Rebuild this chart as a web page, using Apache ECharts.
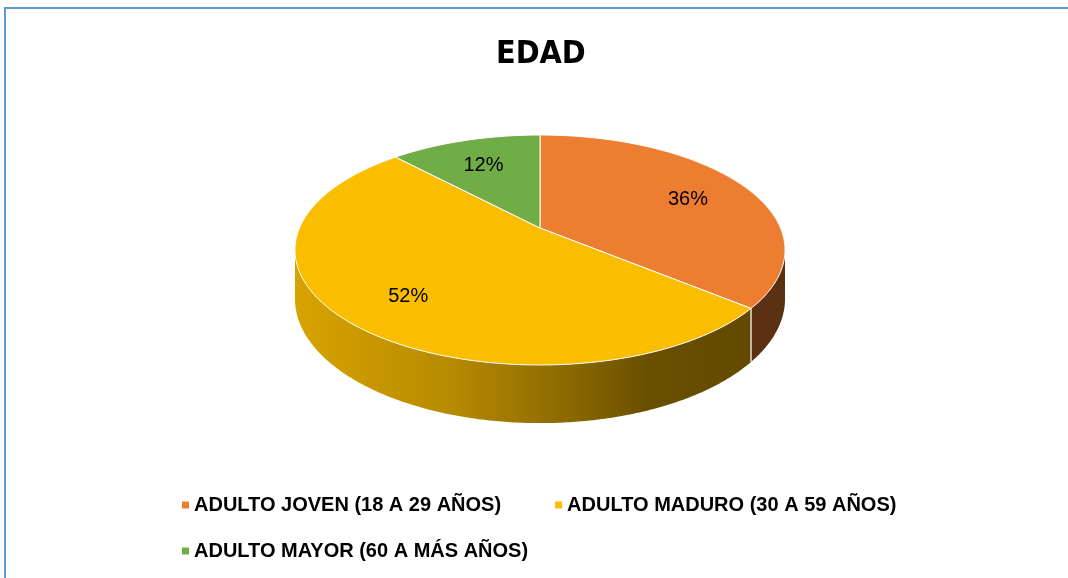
<!DOCTYPE html>
<html><head><meta charset="utf-8">
<script src="https://cdn.jsdelivr.net/npm/echarts@6/dist/echarts.min.js"></script>
<style>html,body{margin:0;padding:0;background:#fff}#c{width:1068px;height:578px}</style>
</head><body><div id="c"></div>
<script>
const titleText = 'EDAD';
const categories = ['ADULTO JOVEN (18 A 29 AÑOS)', 'ADULTO MADURO (30 A 59 AÑOS)', 'ADULTO MAYOR (60 A MÁS AÑOS)'];
const values = [36, 52, 12];
const labels = ['36%', '52%', '12%'];
const colors = ['#ED7D31', '#FABD00', '#70AD47'];

const chart = echarts.init(document.getElementById('c'), null, {renderer: 'canvas'});
const total = values.reduce((s, v) => s + v, 0);

// perspective projection of the tilted pie disc
const P = {cx: 540, cy: 228, a: 240.5, d: -67.17, g: 0.1913, h: 47};
function proj(t, r, z) {
  const X = r * Math.sin(t), Y = r * Math.cos(t);
  const den = 1 + P.g * Y;
  return [P.cx + P.a * X / den, (P.cy + P.d * Y + P.h * z) / den];
}
function shade(hex, f) {
  const n = parseInt(hex.slice(1), 16);
  const r = Math.round(((n >> 16) & 255) * f), g = Math.round(((n >> 8) & 255) * f), b = Math.round((n & 255) * f);
  return 'rgb(' + r + ',' + g + ',' + b + ')';
}
function sideGradient(hex) {
  const stops = [[0, 0.86], [0.3, 0.74], [0.55, 0.56], [0.72, 0.42], [1, 0.38]];
  return new echarts.graphic.LinearGradient(296, 0, 785, 0,
    stops.map(s => ({offset: s[0], color: shade(hex, s[1])})), true);
}

function renderSlice(params, api) {
  const i = params.seriesIndex;
  const v = api.value(0);
  let before = 0;
  for (let k = 0; k < i; k++) before += values[k];
  const t0 = before / total * 2 * Math.PI, t1 = (before + v) / total * 2 * Math.PI;
  const children = [];
  const color = api.visual('color');
  const lo = Math.acos(-P.g), hi = 2 * Math.PI - lo;
  const s0 = Math.max(t0, lo), s1 = Math.min(t1, hi);
  if (s1 > s0) {
    const M = Math.max(4, Math.ceil((s1 - s0) / 0.01));
    const pts = [];
    for (let k = 0; k <= M; k++) pts.push(proj(s0 + (s1 - s0) * k / M, 1, 0));
    for (let k = M; k >= 0; k--) pts.push(proj(s0 + (s1 - s0) * k / M, 1, 1));
    children.push({type: 'polygon', shape: {points: pts}, style: {fill: sideGradient(colors[i])}, z2: 1});
    [t0, t1].forEach(t => {
      if (t > lo && t < hi) {
        const p = proj(t, 1, 0), q = proj(t, 1, 1);
        children.push({type: 'line', shape: {x1: p[0], y1: p[1], x2: q[0], y2: q[1]},
          style: {stroke: 'rgba(255,255,255,0.75)', lineWidth: 1}, z2: 2});
      }
    });
  }
  const N = Math.max(8, Math.ceil((t1 - t0) / 0.01));
  const top = [proj(0, 0, 0)];
  for (let k = 0; k <= N; k++) top.push(proj(t0 + (t1 - t0) * k / N, 1, 0));
  children.push({type: 'polygon', shape: {points: top}, style: {fill: color, stroke: '#ffffff', lineWidth: 1}, z2: 10});
  const lp = proj((t0 + t1) / 2, 0.72, 0.08);
  children.push({type: 'text', x: lp[0], y: lp[1],
    style: {text: labels[i], fill: '#000', font: '20px "Liberation Sans", Arial, sans-serif', align: 'center', verticalAlign: 'middle'}, z2: 20});
  return {type: 'group', children: children};
}

const legendText = {fontFamily: '"Liberation Sans", Arial, sans-serif', fontWeight: 'bold', fontSize: 20, color: '#000'};
chart.setOption({
  animation: false,
  backgroundColor: '#fff',
  title: {text: titleText, left: 491, top: 34,
    textStyle: {fontFamily: '"DejaVu Sans Condensed", sans-serif', fontWeight: 'bold', fontSize: 32, color: '#000'}},
  legend: [
    {data: [categories[0], categories[1]], left: 182, top: 495, padding: 0, icon: 'rect', itemWidth: 7, itemHeight: 7, itemGap: 54, textStyle: legendText, selectedMode: false},
    {data: [categories[2]], left: 182, top: 541, padding: 0, icon: 'rect', itemWidth: 7, itemHeight: 7, textStyle: legendText, selectedMode: false}
  ],
  graphic: [{type: 'rect', shape: {x: 5, y: 8, width: 1100, height: 620}, style: {fill: 'none', stroke: '#5B9BD5', lineWidth: 2}, silent: true}],
  series: categories.map((name, i) => ({
    type: 'custom', name: name, coordinateSystem: 'none',
    itemStyle: {color: colors[i]},
    data: [[values[i]]],
    renderItem: renderSlice
  }))
});
</script></body></html>
